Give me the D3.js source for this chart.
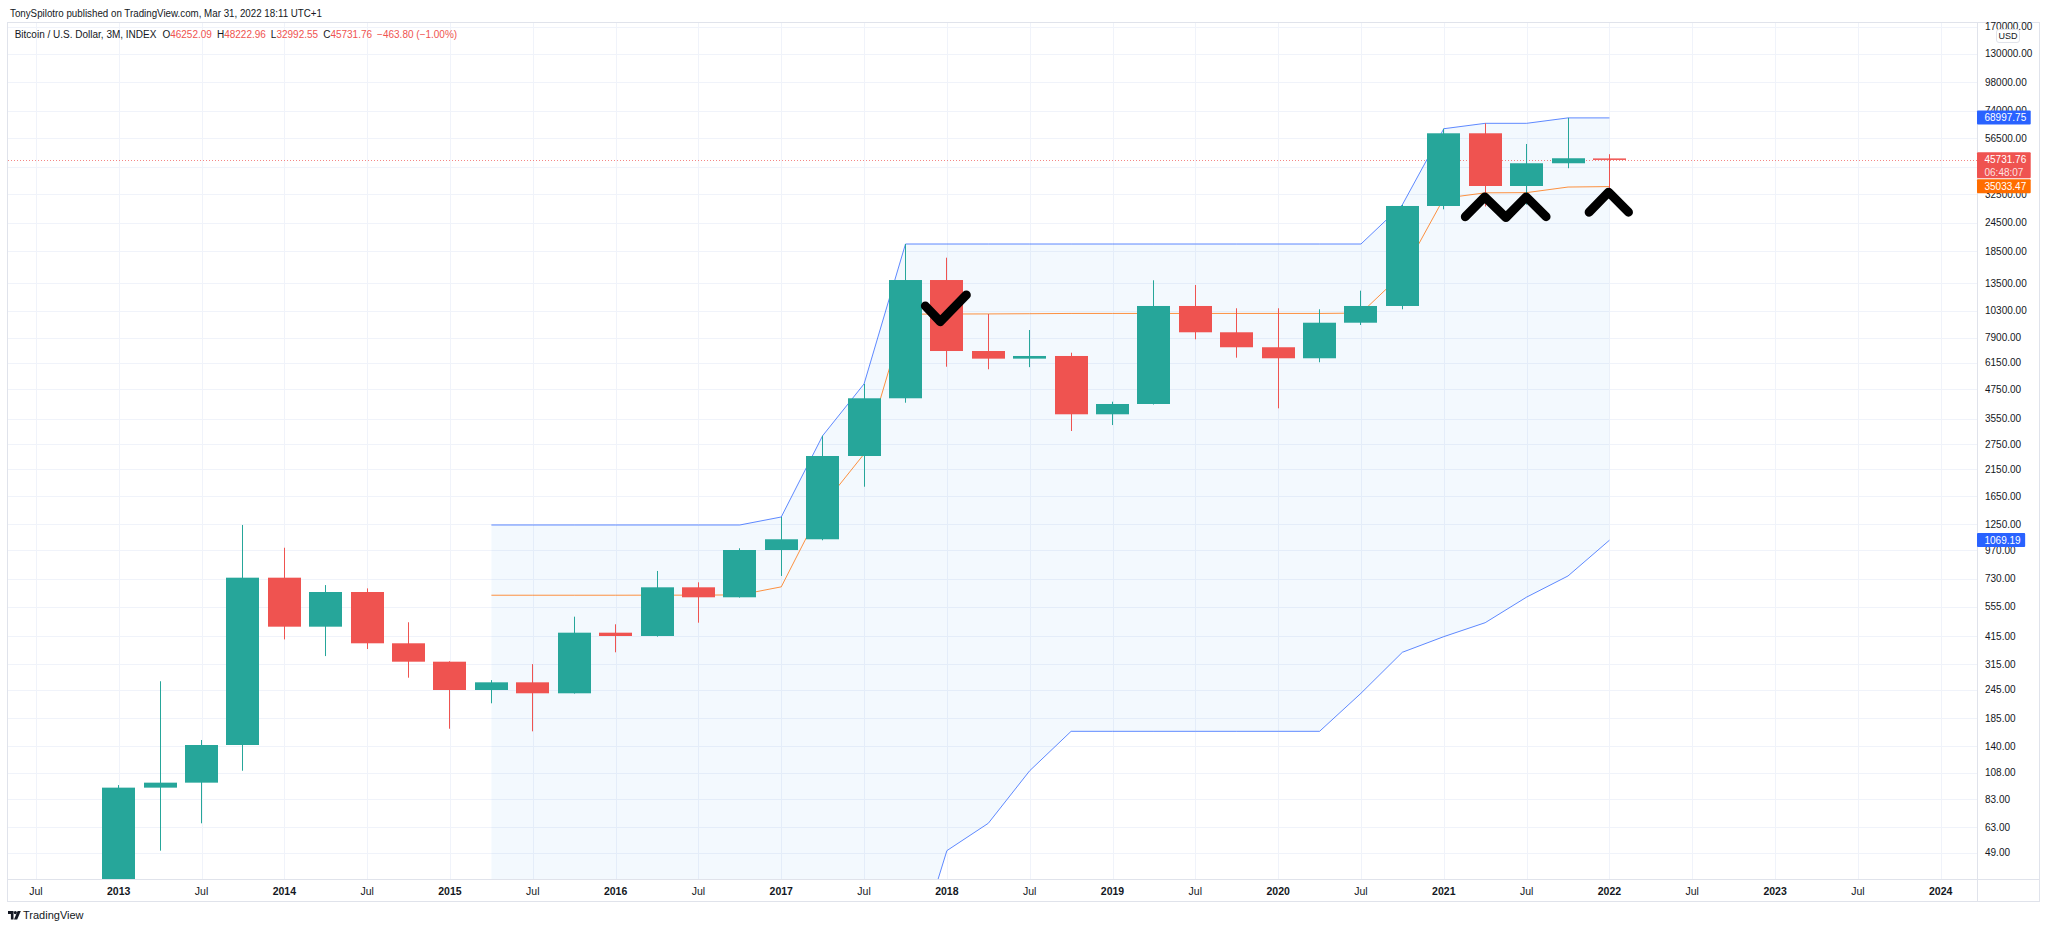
<!DOCTYPE html>
<html><head><meta charset="utf-8">
<script src="https://cdn.jsdelivr.net/npm/d3@7"></script>
<style>html,body{margin:0;padding:0;background:#fff;overflow:hidden}text{font-family:"Liberation Sans",Arial,sans-serif}</style>
</head><body>
<svg id="chart" width="2048" height="931"></svg>
<script>
// ---------- DATA (quarterly candles) ----------
const quarters = ["2013 Q1","2013 Q2","2013 Q3","2013 Q4","2014 Q1","2014 Q2","2014 Q3","2014 Q4",
  "2015 Q1","2015 Q2","2015 Q3","2015 Q4","2016 Q1","2016 Q2","2016 Q3","2016 Q4",
  "2017 Q1","2017 Q2","2017 Q3","2017 Q4","2018 Q1","2018 Q2","2018 Q3","2018 Q4",
  "2019 Q1","2019 Q2","2019 Q3","2019 Q4","2020 Q1","2020 Q2","2020 Q3","2020 Q4",
  "2021 Q1","2021 Q2","2021 Q3","2021 Q4","2022 Q1"];
const openP  = [13.5,93.1,97.8,141.8,739,455.7,641.6,386.8,322.6,244,263.2,236.2,429.5,415.7,672,609,
  971,1079.5,2455,4339,13935,6917,6415,6586,3705,4101,10786,8321,7178,6439,9145,10786,28930,59275,35236,44100,46252.09];
const highP  = [95.5,266,149,1243,993,687,665,476,324,269,315,503,466.6,789.6,706,988,
  1345,2999,5000,19880,17370,9967,8511,6803,4195,13900,13263,10545,10545,10441,12545,29300,62000,65400,53340,68997.75,48222.96];
const lowP   = [13.3,50,65.5,110,402,341,365.7,275.5,166.5,214,162.3,235.5,354,413,474,607,
  751.7,1069.19,1813,4154,5925,5777,5900,3142,3332,4080,7766,6477,3930,6190,8942,10441,28000,28800,29300,42000,32992.55];
const closeP = [93.1,97.8,141.8,739,455.7,641.6,386.8,322.6,244,263.2,236.2,429.5,415.7,672,609,971,
  1079.5,2455,4339,13935,6917,6415,6586,3705,4101,10786,8321,7178,6439,9145,10786,28930,59275,35236,44100,46330,45731.76];

// Donchian channel (20) values, from 2015 Q2 (index 9) to 2022 Q1
const bandStart = 9;
const upperBand = [1243,1243,1243,1243,1243,1243,1243,1345,2999,5000,19880,19880,19880,19880,19880,
  19880,19880,19880,19880,19880,19880,19880,29300,62000,65400,65400,68997.75,68997.75];
const lowerBand = [0.05,0.1,0.3,0.7,2.0,2.0,4.3,4.7,6.5,9.6,13.3,50,65.5,110,162.3,162.3,162.3,
  162.3,162.3,162.3,162.3,236.2,354,413,474,610,751.7,1069.19];
const basisBand = [621.5,621.5,621.5,621.5,622,622,623.7,675,1502,2505,9947,9965,9973,9995,10021,
  10021,10021,10021,10021,10021,10021,10058,14827,31207,32937,33005,34875,35033.47];

const priceTicks = [170000,130000,98000,74000,56500,42500,32500,24500,18500,13500,10300,7900,6150,
  4750,3550,2750,2150,1650,1250,970,730,555,415,315,245,185,140,108,83,63,49];
// tick labels fully hidden behind the last-price tag in the reference
const hiddenTickLabels = [42500];
const timeTickIndex  = [-2,0,2,4,6,8,10,12,14,16,18,20,22,24,26,28,30,32,34,36,38,40,42,44];
const timeTickLabels = ["Jul","2013","Jul","2014","Jul","2015","Jul","2016","Jul","2017","Jul","2018",
  "Jul","2019","Jul","2020","Jul","2021","Jul","2022","Jul","2023","Jul","2024"];

// hand-drawn annotations, in (bar index, price)
const checkMark = [[19.48,10786],[19.84,9238],[20.47,12024]];
const zigzag    = [[32.52,26035],[32.99,31630],[33.50,25830],[33.99,31630],[34.47,26035]];
const caret     = [[35.51,27220],[35.98,33150],[36.46,27220]];

const headerText = "TonySpilotro published on TradingView.com, Mar 31, 2022 18:11 UTC+1";
const symbolTitle = "Bitcoin / U.S. Dollar, 3M, INDEX";
const changeText = "\u2212463.80 (\u22121.00%)";
const countdown = "06:48:07";

// ---------- LAYOUT ----------
const W = 2048, H = 931;
const plot = {left: 8, right: 1977, top: 22, bottom: 879};
const UP = "#26a69a", DOWN = "#ef5350", BLUE = "#2962ff", ORANGE = "#ff6d00";
const GRID = "#f0f3fa", BORDER = "#e0e3eb", TEXT = "#131722";

const x = d3.scaleLinear().domain([0, 44]).range([118.7, 1940.7]);
const y = d3.scaleLog().domain([49, 170000]).range([852.7, 26.5]);

const svg = d3.select("#chart");
svg.append("rect").attr("width", W).attr("height", H).attr("fill", "#fff");
svg.append("clipPath").attr("id", "pc").append("rect")
  .attr("x", plot.left).attr("y", plot.top).attr("width", plot.right - plot.left).attr("height", plot.bottom - plot.top);

const g = svg.append("g").attr("clip-path", "url(#pc)");

// grid
g.selectAll(".hg").data(priceTicks).join("line").attr("class", "hg")
  .attr("x1", plot.left).attr("x2", plot.right)
  .attr("y1", d => Math.round(y(d)) + 0.5).attr("y2", d => Math.round(y(d)) + 0.5)
  .attr("stroke", GRID).attr("stroke-width", 1);
g.selectAll(".vg").data(timeTickIndex).join("line").attr("class", "vg")
  .attr("x1", d => Math.round(x(d)) + 0.5).attr("x2", d => Math.round(x(d)) + 0.5)
  .attr("y1", plot.top).attr("y2", plot.bottom)
  .attr("stroke", GRID).attr("stroke-width", 1);

// band
const bandIdx = d3.range(upperBand.length);
g.append("path").datum(bandIdx)
  .attr("d", d3.area().x(k => x(k + bandStart)).y0(k => y(lowerBand[k])).y1(k => y(upperBand[k])))
  .attr("fill", "rgba(33,150,243,0.055)");
const bandLine = arr => d3.line().x(k => x(k + bandStart)).y(k => y(arr[k]));
g.append("path").datum(bandIdx).attr("d", bandLine(upperBand)).attr("fill", "none").attr("stroke", BLUE).attr("stroke-opacity", 0.75).attr("stroke-width", 1);
g.append("path").datum(bandIdx).attr("d", bandLine(lowerBand)).attr("fill", "none").attr("stroke", BLUE).attr("stroke-opacity", 0.75).attr("stroke-width", 1);
g.append("path").datum(bandIdx).attr("d", bandLine(basisBand)).attr("fill", "none").attr("stroke", ORANGE).attr("stroke-opacity", 0.75).attr("stroke-width", 1);

// current price line
const lastClose = closeP[closeP.length - 1];
g.append("line").attr("x1", plot.left).attr("x2", plot.right)
  .attr("y1", Math.round(y(lastClose)) + 0.5).attr("y2", Math.round(y(lastClose)) + 0.5)
  .attr("stroke", DOWN).attr("stroke-opacity", 0.7).attr("stroke-dasharray", "1 2");

// candles
const idx = d3.range(quarters.length);
const col = i => closeP[i] >= openP[i] ? UP : DOWN;
g.selectAll(".wick").data(idx).join("rect").attr("class", "wick")
  .attr("x", i => Math.floor(x(i))).attr("width", 1)
  .attr("y", i => y(highP[i])).attr("height", i => y(lowP[i]) - y(highP[i]))
  .attr("fill", col);
g.selectAll(".body").data(idx).join("rect").attr("class", "body")
  .attr("x", i => Math.round(x(i) - 16.5)).attr("width", 33)
  .attr("y", i => y(Math.max(openP[i], closeP[i])))
  .attr("height", i => Math.max(1.5, Math.abs(y(openP[i]) - y(closeP[i]))))
  .attr("fill", col);

// annotations
const annLine = d3.line().x(d => x(d[0])).y(d => y(d[1]));
[checkMark, zigzag, caret].forEach(a => {
  g.append("path").attr("d", annLine(a)).attr("fill", "none").attr("stroke", "#000")
    .attr("stroke-width", 9).attr("stroke-linecap", "round").attr("stroke-linejoin", "round");
});

// frame
svg.append("rect").attr("x", 7.5).attr("y", 22.5).attr("width", 2032).attr("height", 879)
  .attr("fill", "none").attr("stroke", BORDER);
svg.append("line").attr("x1", 7.5).attr("x2", 2039.5).attr("y1", 879.5).attr("y2", 879.5).attr("stroke", BORDER);
svg.append("line").attr("x1", 1977.5).attr("x2", 1977.5).attr("y1", 22.5).attr("y2", 901.5).attr("stroke", BORDER);

// price axis labels
const ax = svg.append("g");
ax.selectAll(".pl").data(priceTicks.filter(d => !hiddenTickLabels.includes(d))).join("text").attr("class", "pl")
  .attr("x", 1985).attr("y", d => y(d)).attr("dy", "0.35em")
  .attr("font-size", 10).attr("fill", TEXT).text(d => d.toFixed(2));

// USD badge
ax.append("rect").attr("x", 1996.5).attr("y", 29.5).attr("width", 23).attr("height", 13).attr("rx", 2.5)
  .attr("fill", "#fff").attr("stroke", BORDER);
ax.append("text").attr("x", 2008).attr("y", 36).attr("dy", "0.35em").attr("text-anchor", "middle")
  .attr("font-size", 9).attr("fill", TEXT).text("USD");

// price tag boxes
function tag(value, color, extra) {
  const yc = y(value);
  const t = ax.append("text").attr("x", 1984.5).attr("font-size", 10).attr("fill", "#fff").text(value.toFixed(2));
  const w = t.node().getComputedTextLength();
  const h = extra ? 26 : 14;
  const top = yc - 7.3;
  ax.insert("rect", () => t.node()).attr("x", 1977).attr("y", top).attr("width", w + 12).attr("height", h)
    .attr("rx", 1).attr("fill", color);
  t.attr("y", yc).attr("dy", "0.35em");
  if (extra) {
    ax.append("text").attr("x", 1984.5).attr("y", yc + 13).attr("dy", "0.35em").attr("font-size", 10)
      .attr("fill", "#fff").attr("fill-opacity", 0.85).text(extra);
  }
}
tag(upperBand[upperBand.length - 1], BLUE);
tag(lastClose, DOWN, countdown);
tag(basisBand[basisBand.length - 1], ORANGE);
tag(lowerBand[lowerBand.length - 1], BLUE);

// time axis labels
svg.selectAll(".tl").data(timeTickIndex).join("text").attr("class", "tl")
  .attr("x", d => x(d)).attr("y", 891).attr("dy", "0.35em").attr("text-anchor", "middle")
  .attr("font-size", 10.5).attr("font-weight", (d, i) => timeTickLabels[i] === "Jul" ? "normal" : "bold")
  .attr("fill", TEXT).text((d, i) => timeTickLabels[i]);

// header
svg.append("text").attr("x", 10).attr("y", 13.5).attr("dy", "0.35em").attr("font-size", 10.5)
  .attr("fill", TEXT).attr("textLength", 312).attr("lengthAdjust", "spacingAndGlyphs").text(headerText);

// legend (flowing tspans)
const leg = svg.append("text").attr("x", 14.7).attr("y", 34).attr("dy", "0.35em").attr("font-size", 10).attr("fill", TEXT);
leg.append("tspan").text(symbolTitle);
const ohlc = [["O", openP], ["H", highP], ["L", lowP], ["C", closeP]];
ohlc.forEach((p, k) => {
  leg.append("tspan").attr("dx", k === 0 ? 6 : 5).attr("fill", TEXT).text(p[0]);
  leg.append("tspan").attr("fill", DOWN).text(p[1][p[1].length - 1].toFixed(2));
});
leg.append("tspan").attr("dx", 5).attr("fill", DOWN).text(changeText);

// footer logo
const lg = svg.append("g").attr("fill", TEXT);
lg.append("path").attr("d", "M8 911 h5.5 v8.5 h-2.6 v-5.6 h-2.9 z");
lg.append("circle").attr("cx", 15.3).attr("cy", 912.6).attr("r", 1.6);
lg.append("path").attr("d", "M17.6 911 h3.2 l-3.6 8.5 h-3.2 z");
svg.append("text").attr("x", 23).attr("y", 915.5).attr("dy", "0.35em").attr("font-size", 11)
  .attr("fill", TEXT).text("TradingView");
</script>
</body></html>
